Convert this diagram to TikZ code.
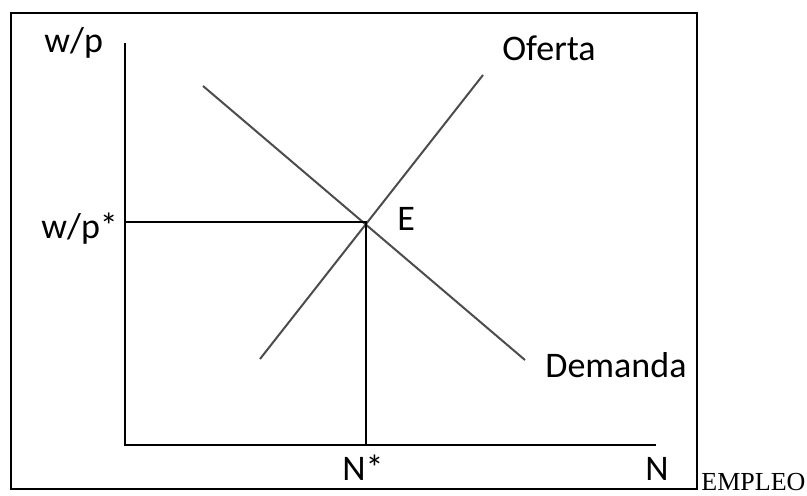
\documentclass[tikz,border=0pt]{standalone}
\usepackage{fontspec}
\setmainfont{Carlito}
\newfontfamily\timesfont{Liberation Serif}
\usetikzlibrary{positioning}

\begin{document}
\begin{tikzpicture}[
    x=0.5pt, y=-0.5pt,
    font=\fontsize{18}{20}\selectfont,
    axis/.style={line width=1pt, black},
    curve/.style={line width=1pt, black!70},
    lbl/.style={inner sep=0pt, anchor=base west},
]
\useasboundingbox (0,0) rectangle (807,496);
% Frame round the graph
\draw[line width=0.75pt] (11,13) rectangle (697,489);
% Axes: wage (vertical) and employment (horizontal)
\coordinate (origin) at (125,445);
\coordinate (ytop)   at (125,43);
\coordinate (xend)   at (656,445);
\draw[axis] (ytop) -- (origin) -- (xend);
% Demand and supply lines, crossing at E
\coordinate (eq)   at (366,222);
\coordinate (dtop) at (203,86);
\coordinate (dbot) at (525,360);
\coordinate (stop) at (483,75);
\coordinate (sbot) at (260,359);
\draw[curve] (dtop) -- (dbot);
\draw[curve] (sbot) -- (stop);
% Guides from the equilibrium to the axes
\coordinate (wstar) at (125,222);
\coordinate (nstar) at (366,445);
\draw[axis] (wstar) -- (eq) -- (nstar);
% Labels
\node[lbl] (wp)      at (44,53)   {w/p};
\node[lbl] (wpstar)  at (41,239)  {w/p*};
\node[lbl] (elbl)    at (397,231) {E};
\node[lbl] (oferta)  at (502,61)  {Oferta};
\node[lbl] (demanda) at (545,377) {Demanda};
\node[lbl] (nstlbl)  at (342,480) {N*};
\node[lbl] (nlbl)    at (645,480) {N};
\node[lbl] (empleo)  at (701,490) {\timesfont\fontsize{13}{15}\selectfont EMPLEO};
\end{tikzpicture}
\end{document}
